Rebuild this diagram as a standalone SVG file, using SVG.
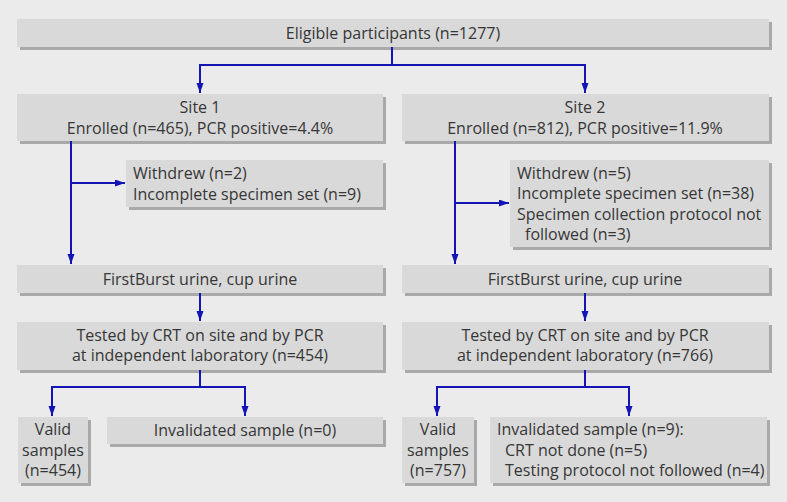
<svg xmlns="http://www.w3.org/2000/svg" width="787" height="502" viewBox="0 0 787 502">
<defs>
<style>
.bg{fill:#ebebeb}
.sh{fill:#a9a9a9}
.bx{fill:#d9d9d9}
text{font-family:"Open Sans","Liberation Sans",sans-serif;font-size:16px;fill:#363636}
.c{text-anchor:middle}
.cn{fill:none;stroke:#1414b4;stroke-width:2}
</style>
<marker id="ah" markerUnits="userSpaceOnUse" markerWidth="11" markerHeight="8" refX="10" refY="3.5" orient="auto">
<path d="M0,0 L10,3.5 L0,7 z" fill="#1414b4"/>
</marker>
</defs>
<rect class="bg" x="0" y="0" width="787" height="502"/>

<g id="eligible">
<rect class="sh" x="20" y="22" width="752" height="28"/>
<rect class="bx" x="17" y="19" width="752" height="28"/>
<text class="c" x="393" y="38.5">Eligible participants (n=1277)</text>
</g>

<g id="site1">
<rect class="sh" x="20" y="97" width="366" height="47"/>
<rect class="bx" x="17" y="94" width="366" height="47"/>
<text class="c" x="200" y="113">Site 1</text>
<text class="c" x="200" y="133.5">Enrolled (n=465), PCR positive=4.4%</text>
</g>

<g id="site2">
<rect class="sh" x="405" y="97" width="367" height="47"/>
<rect class="bx" x="402" y="94" width="367" height="47"/>
<text class="c" x="585" y="113">Site 2</text>
<text class="c" x="585" y="133.5">Enrolled (n=812), PCR positive=11.9%</text>
</g>

<g id="excl1">
<rect class="sh" x="129" y="163" width="257" height="47"/>
<rect class="bx" x="126" y="160" width="257" height="47"/>
<text x="133" y="179">Withdrew (n=2)</text>
<text x="133" y="199.5">Incomplete specimen set (n=9)</text>
</g>

<g id="excl2">
<rect class="sh" x="513" y="163" width="259" height="87"/>
<rect class="bx" x="510" y="160" width="259" height="87"/>
<text x="517" y="178.5">Withdrew (n=5)</text>
<text x="517" y="199">Incomplete specimen set (n=38)</text>
<text x="517" y="219.5">Specimen collection protocol not</text>
<text x="525" y="240">followed (n=3)</text>
</g>

<g id="urine1">
<rect class="sh" x="20" y="268" width="366" height="28"/>
<rect class="bx" x="17" y="265" width="366" height="28"/>
<text class="c" x="200" y="285">FirstBurst urine, cup urine</text>
</g>

<g id="urine2">
<rect class="sh" x="405" y="268" width="367" height="28"/>
<rect class="bx" x="402" y="265" width="367" height="28"/>
<text class="c" x="585" y="285">FirstBurst urine, cup urine</text>
</g>

<g id="tested1">
<rect class="sh" x="20" y="325" width="366" height="48"/>
<rect class="bx" x="17" y="322" width="366" height="48"/>
<text class="c" x="200" y="340.5">Tested by CRT on site and by PCR</text>
<text class="c" x="200" y="361">at independent laboratory (n=454)</text>
</g>

<g id="tested2">
<rect class="sh" x="405" y="325" width="367" height="48"/>
<rect class="bx" x="402" y="322" width="367" height="48"/>
<text class="c" x="585" y="340.5">Tested by CRT on site and by PCR</text>
<text class="c" x="585" y="361">at independent laboratory (n=766)</text>
</g>

<g id="valid1">
<rect class="sh" x="21" y="420" width="70" height="66"/>
<rect class="bx" x="18" y="417" width="70" height="66"/>
<text class="c" x="53" y="435">Valid</text>
<text class="c" x="53" y="455.5">samples</text>
<text class="c" x="53" y="476">(n=454)</text>
</g>

<g id="invalid1">
<rect class="sh" x="110" y="420" width="276" height="27"/>
<rect class="bx" x="107" y="417" width="276" height="27"/>
<text class="c" x="245" y="435.5">Invalidated sample (n=0)</text>
</g>

<g id="valid2">
<rect class="sh" x="405" y="420" width="72" height="66"/>
<rect class="bx" x="402" y="417" width="72" height="66"/>
<text class="c" x="438" y="435">Valid</text>
<text class="c" x="438" y="455.5">samples</text>
<text class="c" x="438" y="476">(n=757)</text>
</g>

<g id="invalid2">
<rect class="sh" x="493" y="420" width="277" height="66"/>
<rect class="bx" x="490" y="417" width="277" height="66"/>
<text x="497" y="435">Invalidated sample (n=9):</text>
<text x="505" y="455.5">CRT not done (n=5)</text>
<text x="505" y="476">Testing protocol not followed (n=4)</text>
</g>

<g id="connectors">
<path class="cn" d="M392,47 V65 H200 V93" marker-end="url(#ah)"/>
<path class="cn" d="M392,65 H585 V93" marker-end="url(#ah)"/>
<path class="cn" d="M71,141 V264" marker-end="url(#ah)"/>
<path class="cn" d="M71,183 H125" marker-end="url(#ah)"/>
<path class="cn" d="M455,141 V264" marker-end="url(#ah)"/>
<path class="cn" d="M455,203 H509" marker-end="url(#ah)"/>
<path class="cn" d="M200,293 V321" marker-end="url(#ah)"/>
<path class="cn" d="M585,293 V321" marker-end="url(#ah)"/>
<path class="cn" d="M200,370 V387 H52 V416" marker-end="url(#ah)"/>
<path class="cn" d="M200,387 H245 V416" marker-end="url(#ah)"/>
<path class="cn" d="M585,370 V387 H437 V416" marker-end="url(#ah)"/>
<path class="cn" d="M585,387 H629 V416" marker-end="url(#ah)"/>
</g>
</svg>
